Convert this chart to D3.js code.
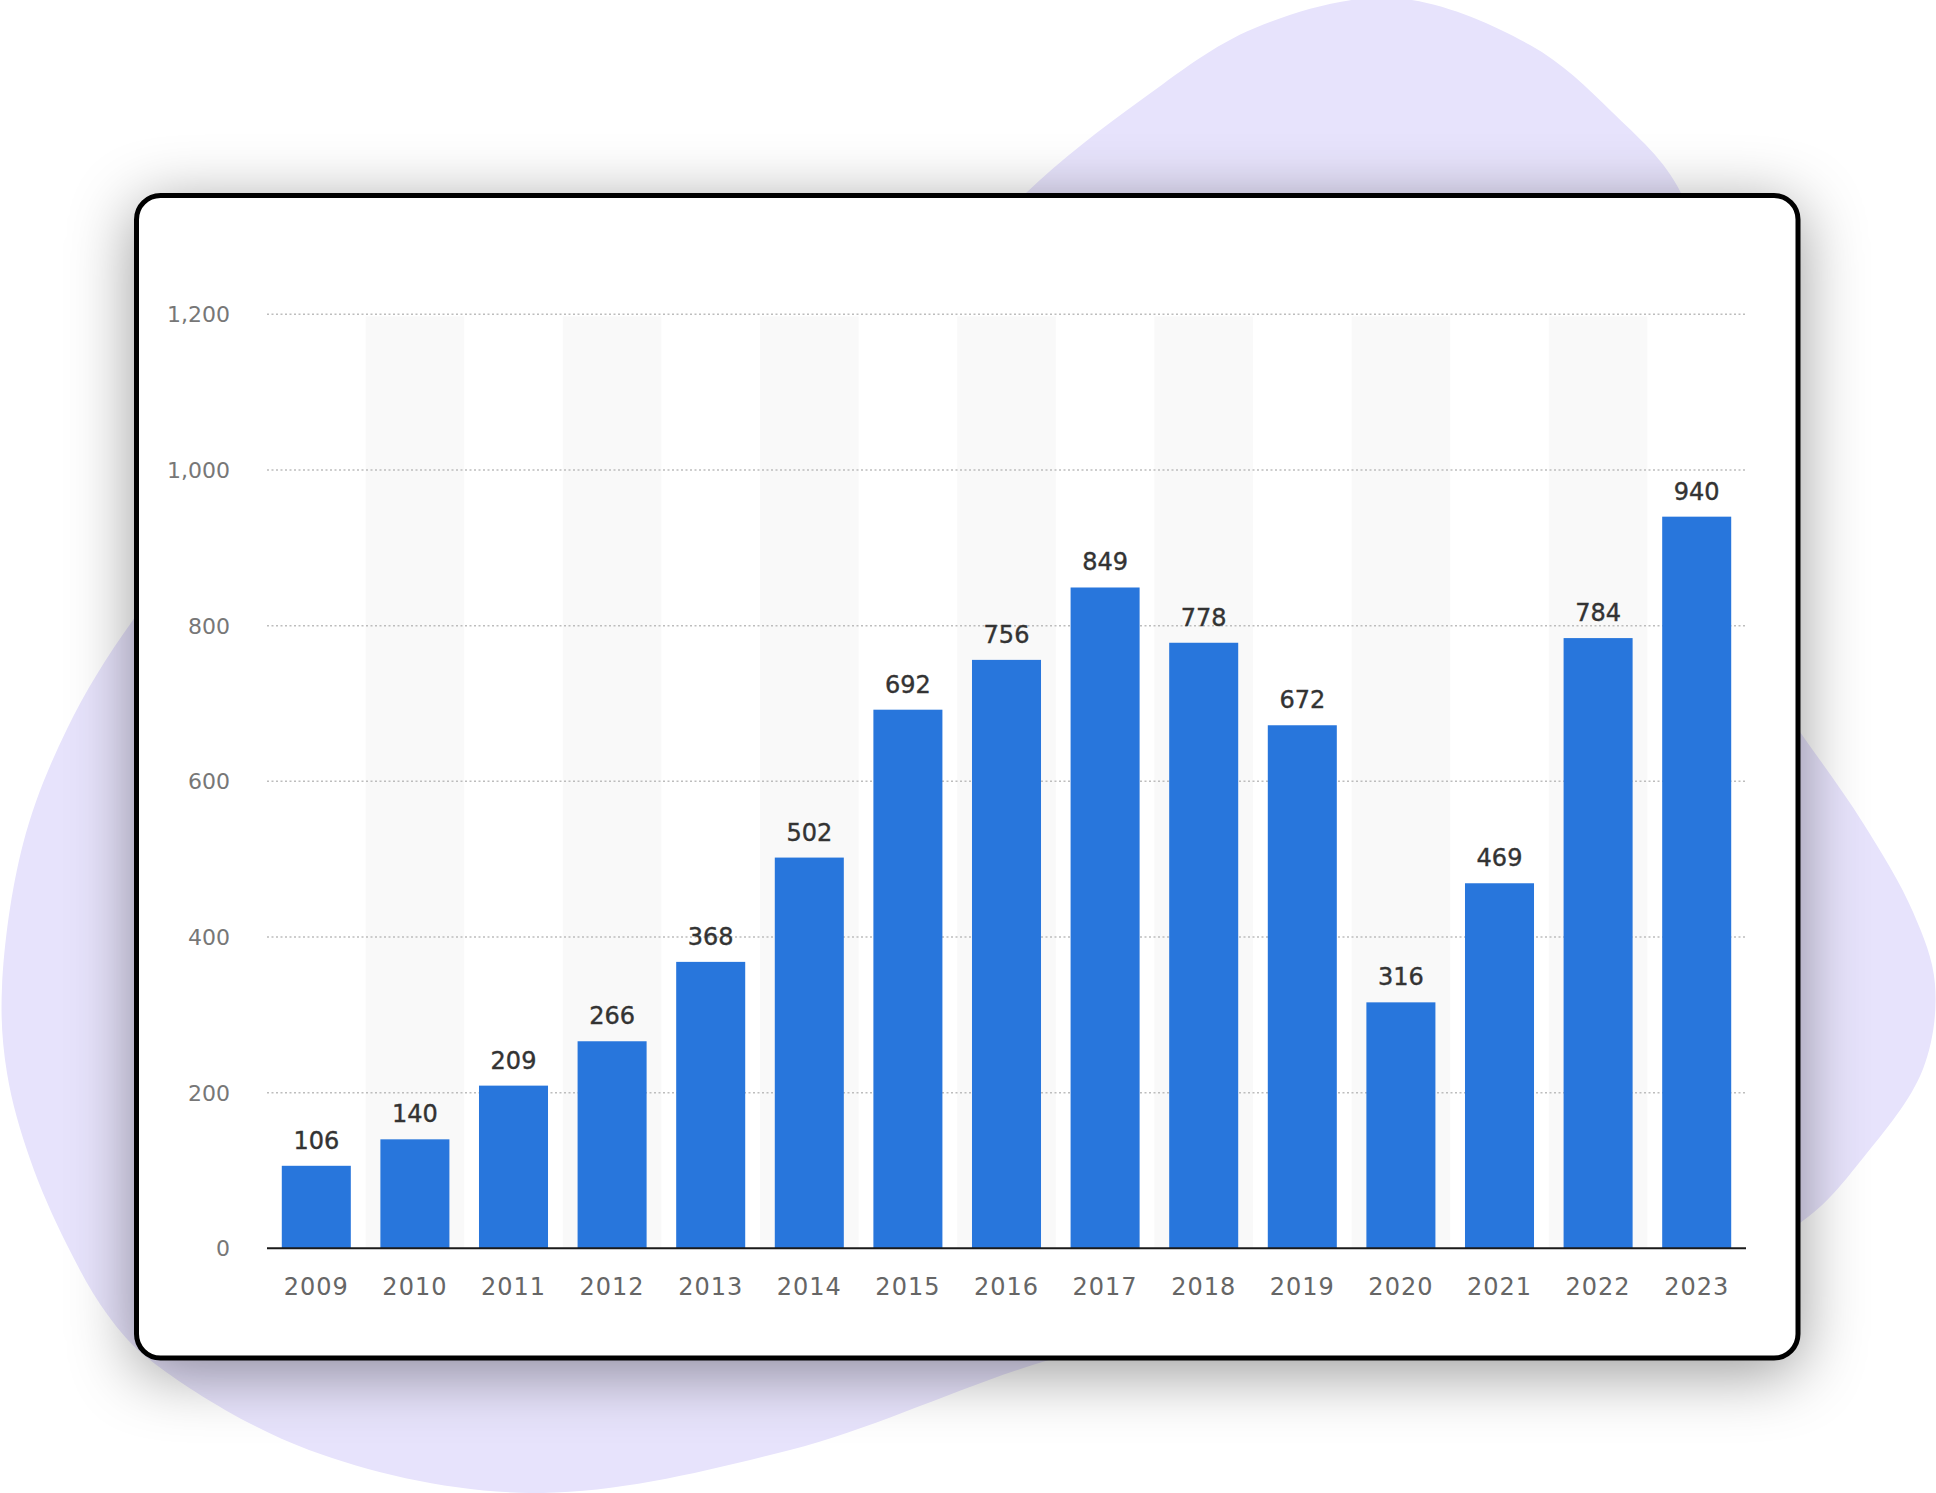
<!DOCTYPE html>
<html>
<head>
<meta charset="utf-8">
<script src="https://cdn.jsdelivr.net/npm/d3@7/dist/d3.min.js"></script>
<style>
  html, body { margin: 0; padding: 0; background: #ffffff; }
  svg { display: block; }
</style>
</head>
<body>
<svg id="chart" width="1936" height="1493"></svg>
<script>
const years = ["2009","2010","2011","2012","2013","2014","2015","2016","2017","2018","2019","2020","2021","2022","2023"];
const values = [106,140,209,266,368,502,692,756,849,778,672,316,469,784,940];
const yTicks = [0,200,400,600,800,1000,1200];

const svg = d3.select("#chart");
const defs = svg.append("defs");

// drop shadow for card
const f = defs.append("filter").attr("id","shadow")
  .attr("x","-20%").attr("y","-20%").attr("width","140%").attr("height","140%");
f.append("feDropShadow").attr("dx",0).attr("dy",12).attr("stdDeviation",32)
  .attr("flood-color","#000").attr("flood-opacity",0.4);

// background blob (outline points; points under the card only shape the hidden part)
const blobPts = [
  [1394,-2],[1530,45],[1612,112],[1681,193],[1710,340],[1720,620],
  [1800,732],[1863,823],[1913,912],[1935,984],
  [1923,1069],[1863,1158],[1800,1223],[1650,1290],[1300,1300],[1049,1360],[790,1450],[530,1493],
  [309,1450],[150,1360],[107,1314],[67,1245],[30,1159],[7,1073],[2,987],[23,844],
  [67,729],[133,620],[250,480],[600,420],[940,290],[1026,193],[1141,100],[1255,28]
];
svg.append("path")
  .attr("d", d3.line().curve(d3.curveCatmullRomClosed.alpha(0.5))(blobPts))
  .attr("fill","#e7e3fc");

// card
svg.append("rect")
  .attr("x",136.5).attr("y",195.5).attr("width",1661.5).attr("height",1162.5)
  .attr("rx",24).attr("ry",24)
  .attr("fill","#ffffff").attr("stroke","#000").attr("stroke-width",5)
  .attr("filter","url(#shadow)");

// scales
const x = d3.scaleBand().domain(years).range([267,1746]).paddingInner(0.3).paddingOuter(0.15);
const y = d3.scaleLinear().domain([0,1200]).range([1248.3,314.3]);
const step = x.step();

const g = svg.append("g");

// alternating stripes
g.selectAll("rect.stripe").data(years.filter((d,i)=> i%2===1)).enter().append("rect")
  .attr("class","stripe")
  .attr("x", d => x(d) + x.bandwidth()/2 - step/2)
  .attr("y", y(1200)+2)
  .attr("width", step)
  .attr("height", y(0) - y(1200) - 2)
  .attr("fill","#f9f9f9");

// gridlines
g.selectAll("line.grid").data(yTicks.filter(d=>d>0)).enter().append("line")
  .attr("x1",267).attr("x2",1746)
  .attr("y1", d => y(d)).attr("y2", d => y(d))
  .attr("stroke","#bdbdbd").attr("stroke-width",1.5)
  .attr("stroke-dasharray","2,2.5");

// y labels
g.selectAll("text.ylab").data(yTicks).enter().append("text")
  .attr("x",230).attr("y", d => y(d)+2)
  .attr("text-anchor","end").attr("dominant-baseline","middle")
  .attr("font-family","DejaVu Sans, Verdana, sans-serif").attr("font-size",22)
  .attr("fill","#777")
  .text(d => d3.format(",")(d));

// bars
g.selectAll("rect.bar").data(values).enter().append("rect")
  .attr("x",(d,i)=> x(years[i]))
  .attr("y", d => y(d))
  .attr("width", x.bandwidth())
  .attr("height", d => y(0)-y(d))
  .attr("fill","#2876dc");

// baseline
g.append("line").attr("x1",267).attr("x2",1746).attr("y1",y(0)).attr("y2",y(0))
  .attr("stroke","#1a1a1a").attr("stroke-width",2);

// value labels
g.selectAll("text.val").data(values).enter().append("text")
  .attr("x",(d,i)=> x(years[i]) + x.bandwidth()/2)
  .attr("y", d => y(d) - 17)
  .attr("text-anchor","middle")
  .attr("font-family","DejaVu Sans, Verdana, sans-serif").attr("font-size",24)
  .attr("fill","#333").attr("stroke","#333").attr("stroke-width",0.4)
  .text(d => d);

// x labels
g.selectAll("text.xlab").data(years).enter().append("text")
  .attr("x", d => x(d) + x.bandwidth()/2)
  .attr("y", 1295)
  .attr("text-anchor","middle")
  .attr("font-family","DejaVu Sans, Verdana, sans-serif").attr("font-size",24)
  .attr("letter-spacing",1)
  .attr("fill","#666")
  .text(d => d);
</script>
</body>
</html>
